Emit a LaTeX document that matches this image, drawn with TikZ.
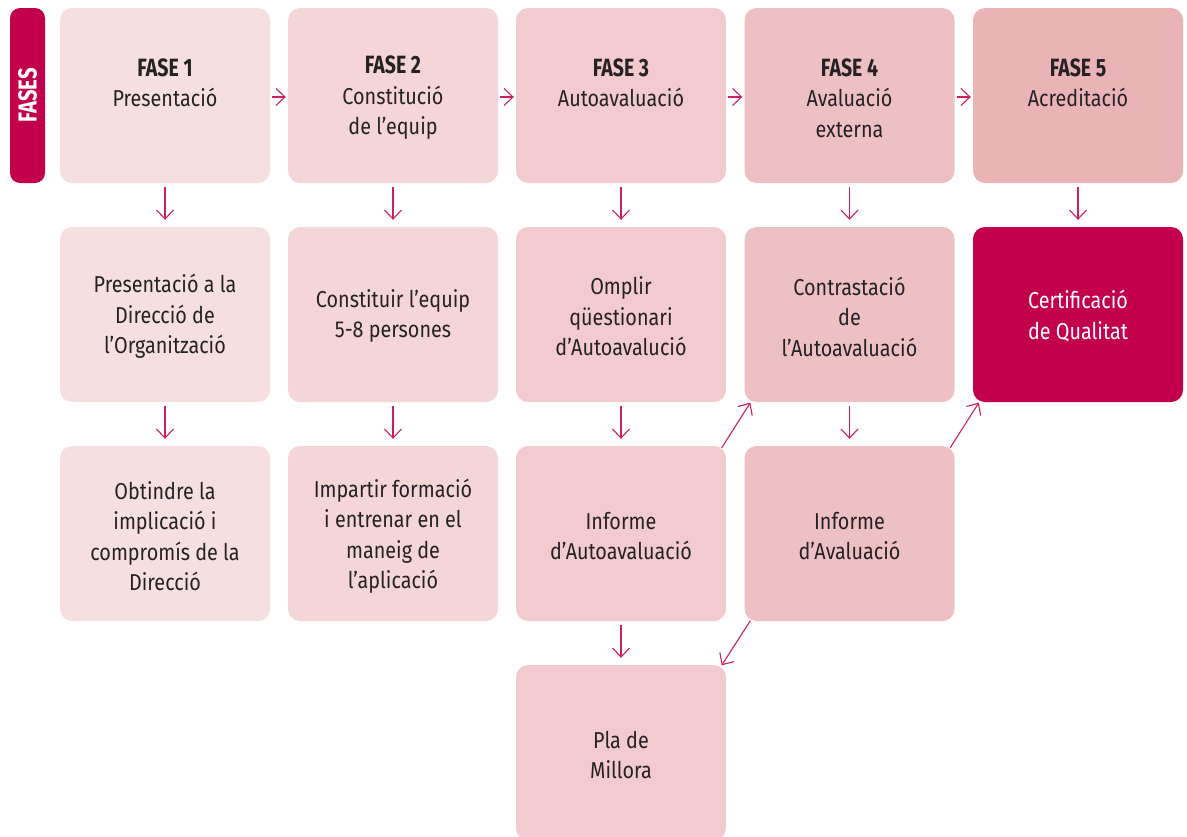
\documentclass[tikz,border=0pt]{standalone}
\usepackage{fontspec}
\setmainfont[FakeStretch=0.86]{Fira Sans}
\newfontfamily\fasefont[FakeStretch=0.78]{Fira Sans}
\newcommand\fasehd[1]{{\fasefont\bfseries\fontsize{25}{30.5}\selectfont #1}}
\usetikzlibrary{arrows.meta}
\definecolor{c1}{HTML}{F6DFE1}
\definecolor{c2}{HTML}{F4D5D8}
\definecolor{c3}{HTML}{F1CBCF}
\definecolor{c4}{HTML}{EDC0C3}
\definecolor{c5}{HTML}{EAB4B7}
\definecolor{mag}{HTML}{C2004B}
\definecolor{arrc}{HTML}{CC1F5C}
\definecolor{ink}{HTML}{262224}
\tikzset{
  box/.style={rectangle, rounded corners=12pt, minimum width=210pt, minimum height=175pt, inner sep=0pt, draw=none},
  txt/.style={align=center, text=ink, font=\fontsize{23}{30.5}\selectfont, inner sep=0pt},
  arr/.style={draw=arrc, line width=1.1pt, -{Straight Barb[length=9pt,width=17pt,line width=1.1pt]}},
}
\begin{document}
\begin{tikzpicture}[x=1pt,y=-1pt]
\useasboundingbox (0,0) rectangle (1187,836);
\clip (0,0) rectangle (1187,836);
% FASES tab
\node[rectangle, rounded corners=10pt, fill=mag, minimum width=35pt, minimum height=175pt, inner sep=0pt] (tab) at (27.5,95.5) {};
\node[rotate=90, text=white, font=\fasefont\bfseries\fontsize{26}{28}\selectfont, inner sep=0pt] (tabt) at (tab.center) {FASES};
% row 1
\node[box, fill=c1] (b11) at (165,95.5) {};
\node[box, fill=c2] (b12) at (393,95.5) {};
\node[box, fill=c3] (b13) at (621,95.5) {};
\node[box, fill=c4] (b14) at (849.5,95.5) {};
\node[box, fill=c5] (b15) at (1078,95.5) {};
% row 2
\node[box, fill=c1] (b21) at (165,314.5) {};
\node[box, fill=c2] (b22) at (393,314.5) {};
\node[box, fill=c3] (b23) at (621,314.5) {};
\node[box, fill=c4] (b24) at (849.5,314.5) {};
\node[box, fill=mag] (b25) at (1078,314.5) {};
% row 3
\node[box, fill=c1] (b31) at (165,533.5) {};
\node[box, fill=c2] (b32) at (393,533.5) {};
\node[box, fill=c3] (b33) at (621,533.5) {};
\node[box, fill=c4] (b34) at (849.5,533.5) {};
% row 4
\node[box, fill=c3] (b43) at (621,752.5) {};
% texts row 1
\node[txt] (t11) at (165,83) {\fasehd{FASE 1}\\Presentació};
\node[txt] (t12) at (393,98) {\fasehd{FASE 2}\\Constitució\\de l’equip};
\node[txt] (t13) at (621,83) {\fasehd{FASE 3}\\Autoavaluació};
\node[txt] (t14) at (849.5,98) {\fasehd{FASE 4}\\Avaluació\\externa};
\node[txt] (t15) at (1078,83) {\fasehd{FASE 5}\\Acreditació};
% texts row 2
\node[txt] (t21) at (165,316.5) {Presentació a la\\Direcció de\\l’Organització};
\node[txt] (t22) at (393,316) {Constituir l’equip\\5-8 persones};
\node[txt] (t23) at (621,316.5) {Omplir\\qüestionari\\d’Autoavalució};
\node[txt] (t24) at (849.5,316.5) {Contrastació\\de\\l’Autoavaluació};
\node[txt, text=white] (t25) at (1078,316) {Certificació\\de Qualitat};
% texts row 3
\node[txt] (t31) at (165,536) {Obtindre la\\implicació i\\compromís de la\\Direcció};
\node[txt] (t32) at (393,536) {Impartir formació\\i entrenar en el\\maneig de\\l’aplicació};
\node[txt] (t33) at (621,536) {Informe\\d’Autoavaluació};
\node[txt] (t34) at (849.5,536) {Informe\\d’Avaluació};
% text row 4
\node[txt] (t43) at (621,755) {Pla de\\Millora};
% horizontal arrows
\draw[arr] ([xshift=2pt,yshift=-1.5pt]b11.east) -- ([xshift=-2pt,yshift=-1.5pt]b12.west);
\draw[arr] ([xshift=2pt,yshift=-1.5pt]b12.east) -- ([xshift=-2pt,yshift=-1.5pt]b13.west);
\draw[arr] ([xshift=2pt,yshift=-1.5pt]b13.east) -- ([xshift=-2pt,yshift=-1.5pt]b14.west);
\draw[arr] ([xshift=2pt,yshift=-1.5pt]b14.east) -- ([xshift=-2pt,yshift=-1.5pt]b15.west);
% vertical arrows
\foreach \c in {1,2,3,4,5} {
  \draw[arr] ([yshift=-4pt]b1\c.south) -- ([yshift=7pt]b2\c.north);
}
\foreach \c in {1,2,3,4} {
  \draw[arr] ([yshift=-4pt]b2\c.south) -- ([yshift=7pt]b3\c.north);
}
\draw[arr] ([yshift=-4pt]b33.south) -- ([yshift=7pt]b43.north);
% diagonal arrows
\draw[arr] ([xshift=-4.5pt,yshift=-2pt]b33.north east) -- ([xshift=6pt,yshift=-0.5pt]b24.south west);
\draw[arr] ([xshift=-4.5pt,yshift=-2pt]b34.north east) -- ([xshift=6pt,yshift=-0.5pt]b25.south west);
\draw[arr] ([xshift=6pt,yshift=0.5pt]b34.south west) -- ([xshift=-4.5pt,yshift=-0.5pt]b43.north east);
\end{tikzpicture}
\end{document}
